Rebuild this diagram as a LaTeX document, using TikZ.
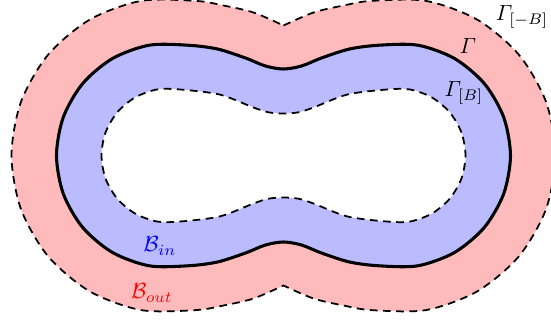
\documentclass[tikz,border=0pt]{standalone}
\usepackage{amsmath,amssymb}
\usepackage{xcolor}
\usepackage{tikz}
\definecolor{outband}{RGB}{255,187,187}
\definecolor{inband}{RGB}{187,187,255}

\begin{document}
\begin{tikzpicture}[x=0.016cm,y=0.016cm,
  offsetline/.style={line width=0.8pt,dash pattern=on 3.5pt off 2.5pt},
  gammaline/.style={line width=1.4pt}]
\clip (-283.5,-164.5) rectangle (267.5,155.5);
% outer band, corners at the two waists
\draw[offsetline,fill=outband]
  plot[smooth] coordinates {(0,130) (30,143) (60,150) (87.7,154.6) (142.3,154.6)
    (193.5,136) (235.3,100.9) (262.5,53.7) (272,0) (262.5,-53.7) (235.3,-100.9)
    (193.5,-136) (142.3,-154.6) (87.7,-154.6) (60,-150) (30,-143) (0,-130)}
  -- plot[smooth] coordinates {(0,-130) (-30,-143) (-60,-150) (-87.7,-154.6)
    (-142.3,-154.6) (-193.5,-136) (-235.3,-100.9) (-262.5,-53.7) (-272,0)
    (-262.5,53.7) (-235.3,100.9) (-193.5,136) (-142.3,154.6) (-87.7,154.6)
    (-60,150) (-30,143) (0,130)} -- cycle;
% the curve itself
\draw[gammaline,fill=inband]
  plot[smooth cycle] coordinates {(227,0) (220.2,38.3) (200.8,72) (171,97)
    (134.4,110.3) (95.6,110.3) (66,106.5) (38,97.5) (18,89.5) (0,86.5) (-18,89.5)
    (-38,97.5) (-66,106.5) (-95.6,110.3) (-134.4,110.3) (-171,97) (-200.8,72)
    (-220.2,38.3) (-227,0) (-220.2,-38.3) (-200.8,-72) (-171,-97) (-134.4,-110.3)
    (-95.6,-110.3) (-66,-106.5) (-38,-97.5) (-18,-89.5) (0,-86.5) (18,-89.5)
    (38,-97.5) (66,-106.5) (95.6,-110.3) (134.4,-110.3) (171,-97) (200.8,-72)
    (220.2,-38.3)};
% inner band
\draw[offsetline,fill=white]
  plot[smooth cycle] coordinates {(182,0) (178,22.9) (166.3,43.1) (148.5,58)
    (126.6,66) (103.4,66) (64,61) (30,48) (15,43.2) (0,42) (-15,43.2) (-30,48)
    (-64,61) (-103.4,66) (-126.6,66) (-148.5,58) (-166.3,43.1) (-178,22.9)
    (-182,0) (-178,-22.9) (-166.3,-43.1) (-148.5,-58) (-126.6,-66) (-103.4,-66)
    (-64,-61) (-30,-48) (-15,-43.2) (0,-42) (15,-43.2) (30,-48) (64,-61)
    (103.4,-66) (126.6,-66) (148.5,-58) (166.3,-43.1) (178,-22.9)};
\node (lgout) at (238.5,138.5) {$\varGamma_{[-B]}$};
\node (lgam) at (184.5,109.5) {$\varGamma$};
\node (lgin) at (180.5,62.5) {$\varGamma_{[B]}$};
\node[blue] (lbin) at (-123.5,-90.5) {$\mathcal{B}_{in}$};
\node[red] (lbout) at (-131.5,-137.5) {$\mathcal{B}_{out}$};
\end{tikzpicture}
\end{document}
